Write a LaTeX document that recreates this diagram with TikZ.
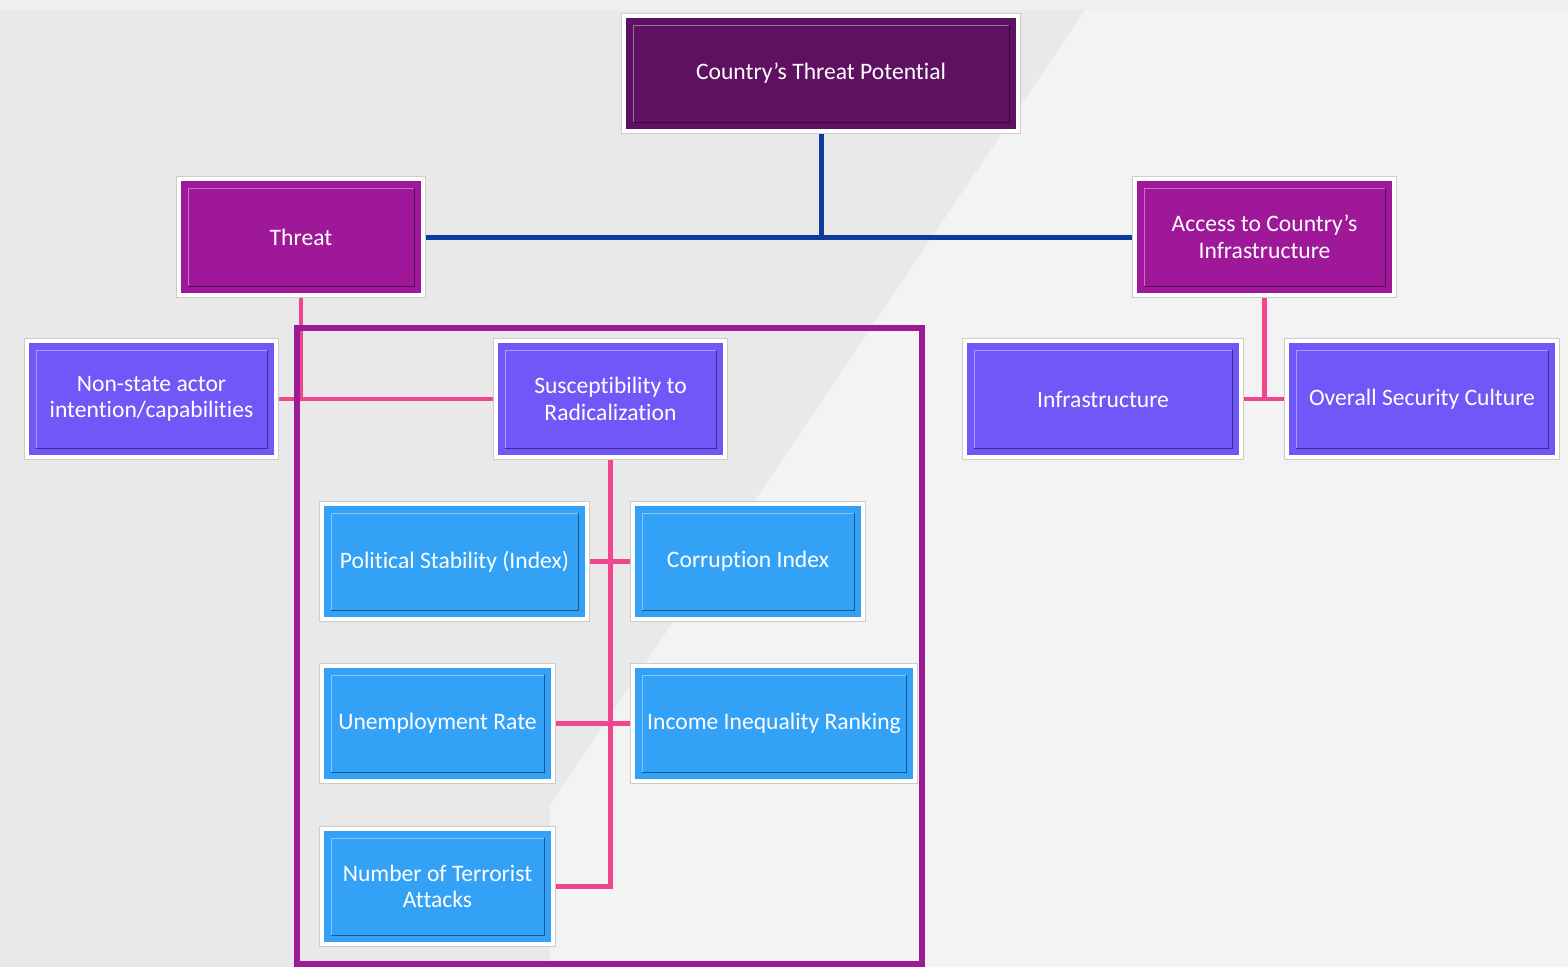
\documentclass[tikz,border=0pt]{standalone}
\usepackage{fontspec}
\setmainfont[Ligatures=NoCommon]{Carlito}
\definecolor{cTop}{RGB}{94,17,96}
\definecolor{cMag}{RGB}{160,24,154}
\definecolor{cViol}{RGB}{112,87,248}
\definecolor{cBlue}{RGB}{51,161,246}
\definecolor{cFrame}{RGB}{155,27,148}
\definecolor{cLine}{RGB}{13,60,158}
\definecolor{cPink}{RGB}{240,70,142}
\definecolor{bgA}{RGB}{233,233,233}
\definecolor{bgB}{RGB}{243,243,243}
\definecolor{bgC}{RGB}{239,239,239}
\newcommand{\boxfont}{\fontsize{23.6}{26.5}\selectfont}
\pgfdeclarelayer{bg}
\pgfdeclarelayer{lines}
\pgfsetlayers{bg,lines,main}
\tikzset{
  box/.style={draw=white, line width=4pt, fill=#1,
    preaction={draw=black!20, line width=6pt},
    text=white, align=center, font=\boxfont, inner sep=0pt,
    path picture={
      \draw[line width=1pt, #1!60!white]
        ([shift={(9pt,9pt)}]path picture bounding box.south west) |-
        ([shift={(-9pt,-9pt)}]path picture bounding box.north east);
      \draw[line width=1pt, #1!55!black]
        ([shift={(9pt,9pt)}]path picture bounding box.south west) -|
        ([shift={(-9pt,-9pt)}]path picture bounding box.north east);
    }},
  blueline/.style={draw=cLine, line width=5pt},
  pinkline/.style={draw=cPink, line width=4.5pt},
  frameline/.style={draw=cFrame, line width=6pt}
}
\begin{document}
\begin{tikzpicture}[x=1pt,y=-1pt]
\useasboundingbox (0,0) rectangle (1568,967);
% background
\begin{pgfonlayer}{bg}
\fill[bgA] (0,0) rectangle (1568,967);
\fill[bgC] (0,0) rectangle (1568,10);
\fill[bgB] (1085,10) -- (1568,10) -- (1568,967) -- (550,967) -- (550,805) -- cycle;
\end{pgfonlayer}
% nodes
\node[box=cTop, minimum width=394pt, minimum height=115pt] (top) at (821,73.5) {Country’s Threat Potential};
\node[box=cMag, minimum width=244pt, minimum height=116pt] (threat) at (301,237) {Threat};
\node[box=cMag, minimum width=259pt, minimum height=116pt] (access) at (1264.5,237) {Access to Country’s\\Infrastructure};
\node[box=cViol, minimum width=249pt, minimum height=116pt] (nonstate) at (151.5,399) {Non-state actor\\intention/capabilities};
\node[box=cViol, minimum width=229pt, minimum height=116pt] (susc) at (610.5,399) {Susceptibility to\\Radicalization};
\node[box=cViol, minimum width=276pt, minimum height=116pt] (infra) at (1103,399) {Infrastructure};
\node[box=cViol, minimum width=270pt, minimum height=116pt] (overall) at (1422,399) {Overall Security Culture};
\node[box=cBlue, minimum width=265pt, minimum height=115pt] (political) at (454.5,561.5) {Political Stability (Index)};
\node[box=cBlue, minimum width=230pt, minimum height=115pt] (corruption) at (748,561.5) {Corruption Index};
\node[box=cBlue, minimum width=231pt, minimum height=115pt] (unemp) at (437.5,723.5) {Unemployment Rate};
\node[box=cBlue, minimum width=282pt, minimum height=115pt] (income) at (774,723.5) {Income Inequality Ranking};
\node[box=cBlue, minimum width=231pt, minimum height=115pt] (number) at (437.5,886.5) {Number of Terrorist\\Attacks};
% connectors (behind the boxes)
\begin{pgfonlayer}{lines}
\draw[blueline] (top.south) -- (top.south |- threat.east);
\draw[blueline] (threat.east) -- (access.west);
\draw[pinkline] (threat.south) -- (threat.south |- nonstate.east);
\draw[pinkline] (nonstate.east) -- (susc.west);
\draw[pinkline] (susc.south) -- (susc.south |- number.east) -- (number.east);
\draw[pinkline] (political.east) -- (corruption.west);
\draw[pinkline] (unemp.east) -- (income.west);
\draw[pinkline] (access.south) -- (access.south |- infra.east);
\draw[pinkline] (infra.east) -- (overall.west);
\coordinate (frameNW) at (297,328);
\coordinate (frameSE) at (922,964);
\draw[frameline] (frameNW) rectangle (frameSE);
\end{pgfonlayer}
\end{tikzpicture}
\end{document}
